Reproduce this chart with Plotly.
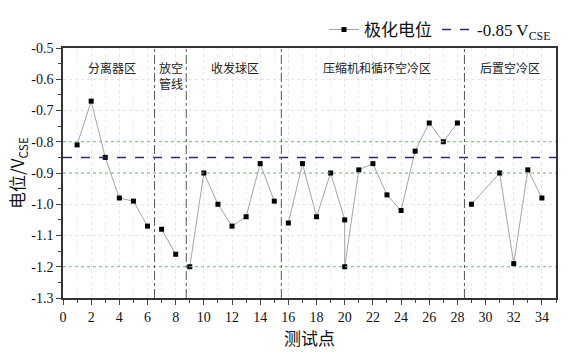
import plotly.graph_objects as go

# Data
seg_x = [[1, 2, 3, 4, 5, 6], [7, 8], [9, 10, 11, 12, 13, 14, 15],
         [16, 17, 18, 19, 20, 20, 21, 22, 23, 24, 25, 26, 27, 28],
         [29, 31, 32, 33, 34]]
seg_y = [[-0.81, -0.67, -0.85, -0.98, -0.99, -1.07], [-1.08, -1.16],
         [-1.20, -0.90, -1.00, -1.07, -1.04, -0.87, -0.99],
         [-1.06, -0.87, -1.04, -0.90, -1.05, -1.20, -0.89, -0.87, -0.97, -1.02, -0.83, -0.74, -0.80, -0.74],
         [-1.00, -0.90, -1.19, -0.89, -0.98]]
ref_value = -0.85
green_lines = [-0.8, -0.9, -1.2]
boundaries = [6.5, 8.75, 15.5, 28.5]
zone_labels = ["分离器区", "放空<br>管线", "收发球区", "压缩机和循环空冷区", "后置空冷区"]
zone_x = [3.5, 7.65, 12.2, 22.3, 31.7]
x_ticks = list(range(0, 36, 2))
y_ticks = [-0.5, -0.6, -0.7, -0.8, -0.9, -1.0, -1.1, -1.2, -1.3]
y_ticktext = ["-0.5", "-0.6", "-0.7", "-0.8", "-0.9", "-1.0", "-1.1", "-1.2", "-1.3"]

serif = "Liberation Serif"
cjk = "Noto Sans CJK SC"

fig = go.Figure()

for i, (xs, ys) in enumerate(zip(seg_x, seg_y)):
    fig.add_trace(go.Scatter(
        x=xs, y=ys, mode="lines+markers",
        line=dict(color="#9a9a9a", width=0.9),
        marker=dict(symbol="square", size=5, color="black"),
        name="极化电位", legendgroup="p", showlegend=(i == 0)))

fig.add_trace(go.Scatter(
    x=[0, 35], y=[ref_value, ref_value], mode="lines",
    line=dict(color="#2e2e6e", width=1.5, dash="dash"),
    name="<span style='font-family:Liberation Serif'>-0.85 V<sub>CSE</sub></span>"))

shapes = []
for g in green_lines:
    shapes.append(dict(type="line", xref="x", x0=0, x1=35, yref="y", y0=g, y1=g,
                       line=dict(color="#6cc46c", width=1, dash="dot"), layer="above"))
for b in boundaries:
    shapes.append(dict(type="line", xref="x", x0=b, x1=b, yref="y", y0=-1.3, y1=-0.5,
                       line=dict(color="#555555", width=1, dash="dashdot"), layer="above"))
fig.update_layout(shapes=shapes)

for lab, zx in zip(zone_labels, zone_x):
    fig.add_annotation(x=zx, y=-0.53, xref="x", yref="y", text=lab, showarrow=False,
                       yanchor="top", font=dict(family=cjk, size=12, color="#222"),
                       align="center")

fig.update_xaxes(range=[0, 35], tickvals=x_ticks,
                 ticks="outside", ticklen=5,
                 minor=dict(ticks="outside", ticklen=3, dtick=1, showgrid=True,
                            gridcolor="#eeeeee", griddash="dot"),
                 showline=True, linecolor="#333", linewidth=1.5, mirror=True,
                 showgrid=True, gridcolor="#e6e6e6", griddash="dot",
                 tickfont=dict(family=serif, size=14, color="#111"),
                 title=dict(text="测试点", font=dict(family=cjk, size=17, color="#111"), standoff=4),
                 zeroline=False)
fig.update_yaxes(range=[-1.3, -0.5], tickvals=y_ticks, ticktext=y_ticktext,
                 ticks="outside", ticklen=5,
                 minor=dict(ticks="outside", ticklen=3, dtick=0.05),
                 showline=True, linecolor="#333", linewidth=1.5, mirror=True,
                 showgrid=True, gridcolor="#e6e6e6", griddash="dot",
                 tickfont=dict(family=serif, size=14, color="#111"),
                 title=dict(text="电位/V<sub>CSE</sub>", font=dict(family=cjk, size=17, color="#111"), standoff=2),
                 zeroline=False)

fig.update_layout(
    width=570, height=352,
    font=dict(family=serif),
    margin=dict(l=63, r=13, t=28, b=52),
    plot_bgcolor="white", paper_bgcolor="white",
    legend=dict(orientation="h", x=1.0, xanchor="right", y=1.0, yanchor="bottom",
                font=dict(family=cjk, size=17, color="#111"),
                itemwidth=30, tracegroupgap=0, bgcolor="rgba(0,0,0,0)"),
)

fig.write_html("out.html")
